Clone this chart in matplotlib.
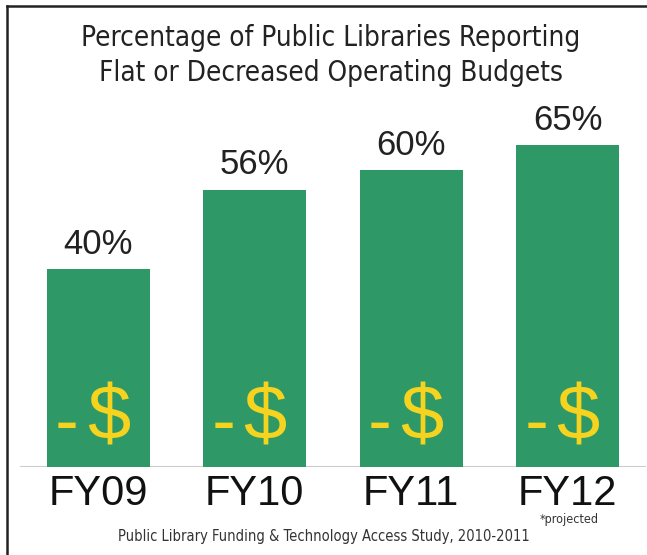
import matplotlib.pyplot as plt
from matplotlib.lines import Line2D
from matplotlib import font_manager as fm

years = ["FY09", "FY10", "FY11", "FY12"]
pct = [40, 56, 60, 65]

green = "#2e9966"
yellow = "#f5d31e"

# condensed face for the title and source line if one is installed
narrow = dict(family="DejaVu Sans", stretch="condensed")
if "Condensed" not in fm.findfont(fm.FontProperties(**narrow)):
    narrow = dict(family="Roboto")

W, H = 647, 555
fig = plt.figure(figsize=(W / 100, H / 100), dpi=100)
fig.patch.set_facecolor("white")

# axes placed in pixels: baseline at y=467 from top
ax = fig.add_axes([20 / W, 88 / H, 626 / W, 467 / H])
ax.set_xlim(-0.5, 3.5)
ax.set_ylim(0, 467 / 4.95)
for s in ax.spines.values():
    s.set_visible(False)
ax.set_xticks([])
ax.set_yticks([])
ax.patch.set_alpha(0)

x = range(len(years))
ax.bar(x, pct, width=0.66, color=green, zorder=2)
ax.axhline(0, color="#cccccc", lw=1.5, zorder=1)

for i, (yr, p) in enumerate(zip(years, pct)):
    ax.annotate(f"{p}%", (i, p), xytext=(0, 6), textcoords="offset points",
                ha="center", va="bottom", fontsize=25,
                family="Liberation Sans", color="#222222")
    ax.annotate(yr, (i, 0), xytext=(0, -5), textcoords="offset points",
                ha="center", va="top", fontsize=30,
                family="Liberation Sans", color="#111111")
    ax.text(i - 0.2, 7.9, "-", ha="center", va="center", fontsize=52,
            family="Roboto", color=yellow, zorder=3)
    ax.text(i + 0.065, 9.6, "$", ha="center", va="center", fontsize=56,
            family="Liberation Sans", color=yellow, zorder=3)

ax.annotate("*projected", (3, 0), xytext=(1, -33), textcoords="offset points",
            ha="center", va="top", fontsize=9, color="#333333", **narrow)

fig.text(331 / W, 1 - 38 / H, "Percentage of Public Libraries Reporting",
         ha="center", va="center", fontsize=20, color="#222222", **narrow)
fig.text(331 / W, 1 - 73 / H, "Flat or Decreased Operating Budgets",
         ha="center", va="center", fontsize=20, color="#222222", **narrow)
fig.text(324 / W, 1 - 536 / H,
         "Public Library Funding & Technology Access Study, 2010-2011",
         ha="center", va="center", fontsize=10.5, color="#333333", **narrow)

# frame lines (top and left)
fig.add_artist(Line2D([7 / W, 1], [1 - 6 / H, 1 - 6 / H], color="#222222",
                      lw=1.8, transform=fig.transFigure))
fig.add_artist(Line2D([7 / W, 7 / W], [0, 1 - 6 / H], color="#222222",
                      lw=1.8, transform=fig.transFigure))

fig.savefig("out.png", dpi=100)
